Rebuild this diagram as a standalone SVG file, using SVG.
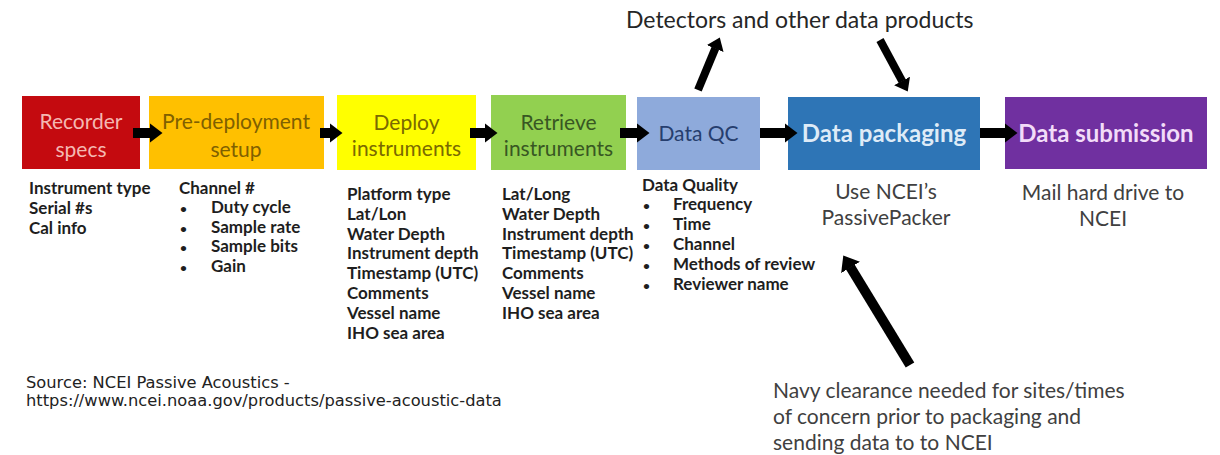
<svg xmlns="http://www.w3.org/2000/svg" width="1220" height="455" viewBox="0 0 1220 455">
<style>
.lbl{font-family:Lato,'Liberation Sans',sans-serif;font-size:21px;text-anchor:middle}
.lblb{font-family:Lato,'Liberation Sans',sans-serif;font-size:24px;font-weight:bold;text-anchor:middle}
.list{font-family:Lato,'Liberation Sans',sans-serif;font-size:17px;font-weight:bold;fill:#1e1e1e}
.bul{font-size:12px}
.note{font-family:Lato,'Liberation Sans',sans-serif;font-size:21px;fill:#404040}
.title{font-family:Lato,'Liberation Sans',sans-serif;font-size:23px;fill:#262626}
.src{font-family:'DejaVu Sans',Verdana,sans-serif;font-size:16.3px;fill:#222}
.arr{stroke:#000;stroke-width:10;fill:none;marker-end:url(#headH)}
.arrd{stroke:#000;stroke-width:8;fill:none;marker-end:url(#headD)}
.arrn{stroke:#000;stroke-width:10;fill:none;marker-end:url(#headN)}
</style>
<defs>
<marker id="headH" markerUnits="userSpaceOnUse" markerWidth="13" markerHeight="20" viewBox="0 0 13 20" refX="0.5" refY="10" orient="auto"><path d="M0,0 L13,10 L0,20 z" fill="#000"/></marker>
<marker id="headD" markerUnits="userSpaceOnUse" markerWidth="12" markerHeight="18" viewBox="0 0 12 18" refX="0.5" refY="9" orient="auto"><path d="M0,0 L12,9 L0,18 z" fill="#000"/></marker>
<marker id="headN" markerUnits="userSpaceOnUse" markerWidth="14" markerHeight="22" viewBox="0 0 14 22" refX="0.5" refY="11" orient="auto"><path d="M0,0 L14,11 L0,22 z" fill="#000"/></marker>
</defs>
<rect width="1220" height="455" fill="#fff"/>

<g id="recorder-specs">
<rect x="22" y="96" width="118" height="73" fill="#c40a0f"/>
<text class="lbl" x="81" y="129" fill="#f4b8b2">Recorder</text>
<text class="lbl" x="81" y="157" fill="#f4b8b2">specs</text>
<text class="list" x="29" y="194">Instrument type</text>
<text class="list" x="29" y="214">Serial #s</text>
<text class="list" x="29" y="234">Cal info</text>
</g>

<g id="pre-deployment">
<rect x="149" y="96" width="175" height="73" fill="#ffc000"/>
<text class="lbl" x="236" y="129" fill="#7f6000">Pre-deployment</text>
<text class="lbl" x="236" y="157" fill="#7f6000">setup</text>
<text class="list" x="179" y="194">Channel #</text>
<text class="list" y="213"><tspan class="bul" x="180">•</tspan><tspan x="211">Duty cycle</tspan></text>
<text class="list" y="233"><tspan class="bul" x="180">•</tspan><tspan x="211">Sample rate</tspan></text>
<text class="list" y="252"><tspan class="bul" x="180">•</tspan><tspan x="211">Sample bits</tspan></text>
<text class="list" y="272"><tspan class="bul" x="180">•</tspan><tspan x="211">Gain</tspan></text>
</g>

<g id="deploy">
<rect x="337" y="95" width="139" height="75" fill="#ffff00"/>
<text class="lbl" x="406.5" y="130" fill="#7a6a00">Deploy</text>
<text class="lbl" x="406.5" y="156" fill="#7a6a00">instruments</text>
<text class="list" x="347" y="200">Platform type</text>
<text class="list" x="347" y="220">Lat/Lon</text>
<text class="list" x="347" y="240">Water Depth</text>
<text class="list" x="347" y="259">Instrument depth</text>
<text class="list" x="347" y="279">Timestamp (UTC)</text>
<text class="list" x="347" y="299">Comments</text>
<text class="list" x="347" y="319">Vessel name</text>
<text class="list" x="347" y="339">IHO sea area</text>
</g>

<g id="retrieve">
<rect x="491" y="95" width="135" height="75" fill="#92d050"/>
<text class="lbl" x="558.5" y="130" fill="#385723">Retrieve</text>
<text class="lbl" x="558.5" y="156" fill="#385723">instruments</text>
<text class="list" x="502" y="200">Lat/Long</text>
<text class="list" x="502" y="220">Water Depth</text>
<text class="list" x="502" y="240">Instrument depth</text>
<text class="list" x="502" y="259">Timestamp (UTC)</text>
<text class="list" x="502" y="279">Comments</text>
<text class="list" x="502" y="299">Vessel name</text>
<text class="list" x="502" y="319">IHO sea area</text>
</g>

<g id="data-qc">
<rect x="637" y="97" width="123" height="73" fill="#8eaadb"/>
<text class="lbl" x="698.5" y="141" fill="#263e6e">Data QC</text>
<text class="list" x="642" y="191">Data Quality</text>
<text class="list" y="210"><tspan class="bul" x="643">•</tspan><tspan x="673">Frequency</tspan></text>
<text class="list" y="230"><tspan class="bul" x="643">•</tspan><tspan x="673">Time</tspan></text>
<text class="list" y="250"><tspan class="bul" x="643">•</tspan><tspan x="673">Channel</tspan></text>
<text class="list" y="270"><tspan class="bul" x="643">•</tspan><tspan x="673">Methods of review</tspan></text>
<text class="list" y="290"><tspan class="bul" x="643">•</tspan><tspan x="673">Reviewer name</tspan></text>
</g>

<g id="data-packaging">
<rect x="788" y="97" width="192" height="73" fill="#2e75b6"/>
<text class="lblb" x="884" y="142" fill="#deebf7">Data packaging</text>
<text class="note" x="886" y="199" text-anchor="middle">Use NCEI’s</text>
<text class="note" x="886" y="225" text-anchor="middle">PassivePacker</text>
</g>

<g id="data-submission">
<rect x="1005" y="97" width="202" height="72" fill="#7030a0"/>
<text class="lblb" x="1106" y="142" fill="#f2dcf8">Data submission</text>
<text class="note" x="1103" y="200" text-anchor="middle">Mail hard drive to</text>
<text class="note" x="1103" y="226" text-anchor="middle">NCEI</text>
</g>

<g id="detectors">
<text class="title" x="626" y="28">Detectors and other data products</text>
</g>

<g id="navy-clearance">
<text class="note" x="773" y="398">Navy clearance needed  for sites/times</text>
<text class="note" x="773" y="424">of concern prior to packaging and</text>
<text class="note" x="773" y="450">sending data to to NCEI</text>
</g>

<g id="source">
<text class="src" x="26" y="388">Source: NCEI Passive Acoustics -</text>
<text class="src" x="26" y="406">https://www.ncei.noaa.gov/products/passive-acoustic-data</text>
</g>

<g id="connectors">
<line class="arr" x1="133" y1="133" x2="150" y2="133"/>
<line class="arr" x1="320" y1="133" x2="330" y2="133"/>
<line class="arr" x1="470" y1="133" x2="485" y2="133"/>
<line class="arr" x1="620" y1="133" x2="637" y2="133"/>
<line class="arr" x1="760" y1="133" x2="785" y2="133"/>
<line class="arr" x1="980" y1="133" x2="1005" y2="133"/>
<line class="arrd" x1="698" y1="90" x2="715.4" y2="48.1"/>
<line class="arrd" x1="880" y1="40" x2="902.3" y2="81.4"/>
<line class="arrn" x1="910" y1="365" x2="850.3" y2="267"/>
</g>
</svg>
